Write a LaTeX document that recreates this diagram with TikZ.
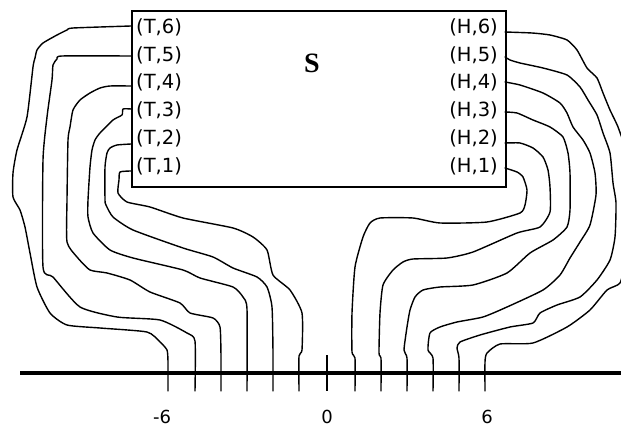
\documentclass[tikz,border=0pt]{standalone}
\usepackage{fontspec}
\newfontfamily\lblfont{DejaVu Sans}
\newfontfamily\bigfont{Liberation Serif}
\begin{document}
\begin{tikzpicture}[x=1pt,y=-1pt,
  lbl/.style={font=\lblfont\fontsize{19.5}{22}\selectfont, inner sep=0pt},
  axlbl/.style={font=\lblfont\fontsize{18}{20}\selectfont, inner sep=0pt},
  title/.style={font=\bigfont\bfseries\fontsize{28}{30}\selectfont, inner sep=0pt},
  box/.style={draw, line width=1.9pt, minimum width=374pt, minimum height=176pt, inner sep=0pt, anchor=north west},
  curve/.style={line width=1.4pt, line join=round, line cap=round},
  axis/.style={line width=3.2pt},
  tickline/.style={line width=1.4pt}]
\useasboundingbox (0,0) rectangle (621,430);
% box and labels
\node[box] (S) at (131,10) {};
\node[title] (Stitle) at (312,63) {S};
\foreach \k/\y in {6/27,5/55,4/82,3/110,2/138,1/166}{
  \node[lbl, anchor=west] (T\k) at (136,\y) {(T,\k)};
  \node[lbl, anchor=east] (H\k) at (498,\y) {(H,\k)};
}
% attachment coordinates on the box
\coordinate (t6) at (131,26);  \coordinate (t5) at (131,56);
\coordinate (t4) at (131,86);  \coordinate (t3) at (131,109);
\coordinate (t2) at (131,144); \coordinate (t1) at (131,171);
\coordinate (h6) at (505,32);  \coordinate (h5) at (505,57);
\coordinate (h4) at (505,82);  \coordinate (h3) at (505,112);
\coordinate (h2) at (505,143); \coordinate (h1) at (505,168);
% tick ends
\coordinate (m6) at (168,391); \coordinate (m5) at (195,391);
\coordinate (m4) at (221,391); \coordinate (m3) at (247,391);
\coordinate (m2) at (273,391); \coordinate (m1) at (299,391);
\coordinate (z0) at (327,391); \coordinate (z0top) at (327,355);
\coordinate (p1) at (355,391); \coordinate (p2) at (381,391);
\coordinate (p3) at (407,391); \coordinate (p4) at (433,391);
\coordinate (p5) at (459,391); \coordinate (p6) at (485,391);
% axis
\coordinate (axL) at (20,373); \coordinate (axR) at (621,373);
\draw[axis] (axL) -- (axR);
\draw[tickline] (z0top) -- (z0);
\node[axlbl] (lm6) at (162,417) {-6};
\node[axlbl] (l0) at (327,417) {0};
\node[axlbl] (lp6) at (487,417) {6};
% left curves
\draw[curve] plot[smooth, tension=0.35] coordinates {(t6) (73,28) (67,30) (57,35) (43,43) (37,50) (35,58) (33,67) (27,117) (17,150) (13,173) (13,197) (20,210) (25,227) (30,253) (37,287) (50,313) (67,325) (100,328) (147,332) (160,342) (167,350) (168,362) (m6)};
\draw[curve] plot[smooth, tension=0.35] coordinates {(t5) (62,56) (57,59) (53,65) (52,80) (47,117) (43,160) (43,267) (53,277) (80,307) (117,317) (160,320) (187,333) (195,341) (m5)};
\draw[curve] plot[smooth, tension=0.35] coordinates {(t4) (110,86) (100,88) (90,93) (80,100) (73,110) (70,127) (68,140) (67,200) (67,242) (77,257) (90,270) (107,273) (130,280) (150,292) (180,303) (190,313) (213,318) (220,327) (221,357) (m4)};
\draw[curve] plot[smooth, tension=0.35] coordinates {(t3) (123,109) (122,115) (113,120) (100,133) (95,140) (92,150) (90,167) (88,200) (88,217) (93,233) (110,250) (133,258) (183,270) (200,278) (233,287) (243,297) (247,309) (m3)};
\draw[curve] plot[smooth, tension=0.35] coordinates {(t2) (117,145) (110,148) (107,153) (105,167) (105,200) (106,205) (113,217) (133,230) (183,248) (213,257) (233,268) (257,277) (267,287) (272,307) (273,353) (m2)};
\draw[curve] plot[smooth, tension=0.35] coordinates {(t1) (120,172) (119,180) (118,193) (127,202) (150,207) (183,218) (233,228) (253,237) (267,250) (273,275) (290,290) (302,313) (302,350) (299,356) (m1)};
% right curves
\begin{scope}
\clip (0,0) rectangle (621,430);
\draw[curve] plot[smooth, tension=0.35] coordinates {(h6) (532,33) (550,35) (567,40) (577,50) (587,68) (597,78) (603,93) (610,110) (618,127) (625,150) (628,200) (625,260) (620,283) (607,290) (590,310) (567,327) (533,343) (500,344) (487,353) (485,362) (p6)};
\end{scope}
\draw[curve] plot[smooth, tension=0.35] coordinates {(h5) (510,60) (520,63) (543,68) (567,75) (580,87) (588,100) (597,115) (603,133) (610,153) (613,183) (616,203) (615,237) (610,260) (597,280) (580,297) (557,305) (540,313) (533,323) (510,327) (480,335) (460,342) (457,348) (459,358) (p5)};
\draw[curve] plot[smooth, tension=0.35] coordinates {(h4) (520,85) (543,93) (560,103) (567,113) (573,127) (583,140) (590,153) (595,173) (596,195) (590,225) (580,242) (570,258) (560,275) (543,290) (507,307) (483,317) (457,322) (440,327) (430,333) (428,350) (433,358) (p4)};
\draw[curve] plot[smooth, tension=0.35] coordinates {(h3) (517,113) (533,120) (550,127) (563,137) (568,153) (570,173) (570,210) (567,227) (553,240) (530,253) (507,273) (473,285) (440,287) (423,290) (415,297) (410,310) (407,327) (404,350) (407,358) (p3)};
\draw[curve] plot[smooth, tension=0.35] coordinates {(h2) (520,143) (533,148) (543,157) (548,170) (550,187) (550,212) (540,227) (517,233) (473,252) (447,258) (413,259) (403,262) (393,270) (383,285) (380,313) (379,353) (381,358) (p2)};
\draw[curve] plot[smooth, tension=0.35] coordinates {(h1) (517,172) (523,177) (527,190) (525,205) (520,213) (487,222) (440,223) (413,218) (380,218) (370,223) (363,237) (355,267) (352,313) (352,352) (355,358) (p1)};
\end{tikzpicture}
\end{document}
